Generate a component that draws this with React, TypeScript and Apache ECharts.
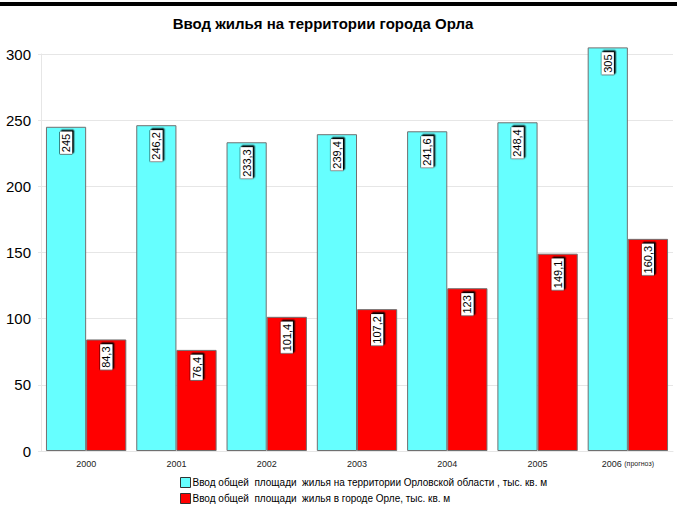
import React, { useEffect, useRef } from "react";
import * as echarts from "echarts";

const categories = ["2000", "2001", "2002", "2003", "2004", "2005", "2006"];
const regionValues = [245, 246.2, 233.3, 239.4, 241.6, 248.4, 305];
const cityValues = [84.3, 76.4, 101.4, 107.2, 123, 149.1, 160.3];
const seriesNames = [
  "Ввод общей  площади  жилья на территории Орловской области , тыс. кв. м",
  "Ввод общей  площади  жилья в городе Орле, тыс. кв. м",
];
const titleText = "Ввод жилья на территории города Орла";

export default function App() {
  const ref = useRef<HTMLDivElement>(null);
  useEffect(() => {
    if (!ref.current) return;
    const chart = echarts.init(ref.current, undefined, { renderer: "svg" });
    const label = {
      show: true,
      position: "insideTop",
      distance: 5,
      rotate: 90,
      align: "right",
      verticalAlign: "middle",
      fontFamily: "Arial, Liberation Sans, sans-serif",
      fontSize: 11,
      color: "#000",
      backgroundColor: "#fff",
      borderColor: "#000",
      borderWidth: 0.5,
      padding: [1, 2, 0, 2],
      shadowColor: "#000",
      shadowOffsetX: 1.5,
      shadowOffsetY: 1.5,
      shadowBlur: 0,
      formatter: (p: any) => String(p.value).replace(".", ","),
    };
    const legendBase = {
      orient: "horizontal",
      left: 180,
      padding: 0,
      itemWidth: 10,
      itemHeight: 10,
      icon: "rect",
      itemStyle: { borderColor: "#333", borderWidth: 1 },
      textStyle: {
        fontFamily: "Liberation Sans Narrow, Arial Narrow, Arial, sans-serif",
        fontSize: 10,
        lineHeight: 11,
        color: "#000",
        padding: [0, 0, 0, -3],
      },
    };
    chart.setOption({
      animation: false,
      backgroundColor: "#fff",
      title: {
        text: titleText,
        left: 318,
        textAlign: "center",
        top: 11,
        textStyle: {
          fontFamily: "Arial, Liberation Sans, sans-serif",
          fontSize: 15,
          fontWeight: "bold",
          color: "#000",
        },
      },
      graphic: [
        { type: "rect", shape: { x: 0, y: 2, width: 677, height: 4 }, style: { fill: "#000" } },
      ],
      legend: [
        { ...legendBase, top: 477, data: [seriesNames[0]] },
        { ...legendBase, top: 493, data: [seriesNames[1]] },
      ],
      grid: { left: 41, right: 4, top: 54, bottom: 54, containLabel: false },
      xAxis: {
        type: "category",
        data: categories,
        axisLine: { show: true, lineStyle: { color: "#e6e6e6" } },
        axisTick: { show: false },
        axisLabel: {
          interval: 0,
          fontFamily: "Arial, Liberation Sans, sans-serif",
          fontSize: 9,
          color: "#222",
          margin: 8,
          formatter: (v: string) => (v === "2006" ? "2006 {s|(прогноз)}" : v),
          rich: { s: { fontSize: 7, fontFamily: "Arial, Liberation Sans, sans-serif", color: "#222" } },
        },
      },
      yAxis: {
        type: "value",
        min: 0,
        max: 300,
        interval: 50,
        axisLine: { show: true, lineStyle: { color: "#e6e6e6" } },
        axisTick: { show: true, length: 3, lineStyle: { color: "#e6e6e6" } },
        splitLine: { lineStyle: { color: "#e6e6e6" } },
        axisLabel: {
          fontFamily: "Arial, Liberation Sans, sans-serif",
          fontSize: 15,
          color: "#000",
          margin: 10,
        },
      },
      series: [
        {
          name: seriesNames[0],
          type: "bar",
          data: regionValues,
          clip: false,
          barGap: "0%",
          barCategoryGap: "11%",
          itemStyle: { color: "#66FFFF", borderColor: "#707070", borderWidth: 1 },
          label,
        },
        {
          name: seriesNames[1],
          type: "bar",
          data: cityValues,
          clip: false,
          barGap: "0%",
          barCategoryGap: "11%",
          itemStyle: { color: "#FF0000", borderColor: "#707070", borderWidth: 1 },
          label,
        },
      ],
    });
    return () => chart.dispose();
  }, []);
  return (
    <div
      ref={ref}
      style={{ position: "fixed", left: 0, top: 0, width: 677, height: 505 }}
    />
  );
}
